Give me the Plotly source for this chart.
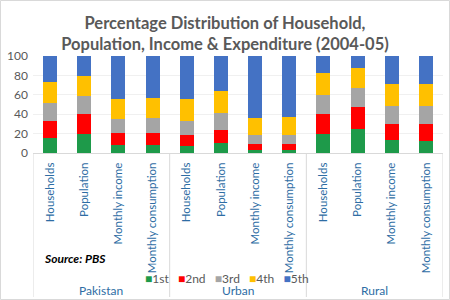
import plotly.graph_objects as go

groups = ["Pakistan", "Urban", "Rural"]
measures = ["Households", "Population", "Monthly income", "Monthly consumption"]
series_names = ["1st", "2nd", "3rd", "4th", "5th"]
colors = ["#1e9a4a", "#ff0000", "#a5a5a5", "#ffc000", "#4472c4"]

# values per quintile, ordered Pakistan(4), Urban(4), Rural(4)
q1 = [15.5, 20.0, 8.6, 8.6, 6.9, 10.3, 3.4, 3.4, 19.3, 24.8, 13.1, 12.4]
q2 = [17.3, 19.7, 12.1, 12.1, 11.4, 13.1, 5.6, 5.6, 21.0, 22.8, 17.2, 17.3]
q3 = [18.9, 19.3, 14.5, 15.2, 15.1, 17.6, 10.0, 10.0, 20.0, 19.3, 18.0, 18.6]
q4 = [21.7, 20.7, 20.0, 20.7, 22.5, 22.8, 17.2, 17.9, 21.7, 20.3, 22.4, 23.1]
q5 = [26.6, 20.3, 44.8, 43.4, 44.1, 36.2, 63.8, 63.1, 18.0, 12.8, 29.3, 28.6]
series = [q1, q2, q3, q4, q5]

yticks = [0, 20, 40, 60, 80, 100]

labels = [m for g in groups for m in measures]
xpos = list(range(len(labels)))

fig = go.Figure()
for name, vals, col in zip(series_names, series, colors):
    fig.add_trace(go.Bar(x=xpos, y=vals, name=name, marker=dict(color=col, line=dict(width=0)),
                         showlegend=False))

# plot area pixel geometry
W, H = 450, 300
ml, mr, mt, mb = 33, 7, 56, 147
pw = W - ml - mr
ph = H - mt - mb

def px_x(p):
    return (p - ml) / pw

def px_y(p):
    return (H - mb - p) / ph

fig.update_layout(
    width=W, height=H,
    margin=dict(l=ml, r=mr, t=mt, b=mb),
    barmode="stack",
    bargap=0.59,
    plot_bgcolor="white",
    paper_bgcolor="white",
    font=dict(family="Lato, Open Sans, sans-serif", color="#595959"),
    title=dict(
        text="<b>Percentage Distribution of Household,<br>Population, Income & Expenditure (2004-05)</b>",
        x=0.5, xanchor="center", xref="container",
        y=1 - 29 / H, yanchor="middle", yref="container",
        font=dict(family="Lato, sans-serif", size=16.5, color="#595959"),
    ),
    xaxis=dict(
        tickvals=xpos, ticktext=labels, tickangle=-90,
        tickfont=dict(size=11.5, color="#2e6da4"),
        range=[-0.5, len(labels) - 0.5],
        showline=True, linecolor="#d9d9d9", linewidth=1,
        showgrid=False, ticks="", ticklabelstandoff=4,
    ),
    yaxis=dict(
        range=[0, 100], tickvals=yticks,
        tickfont=dict(size=12, color="#595959"),
        showgrid=True, gridcolor="#f0f0f0", zeroline=False,
        ticks="", ticklabelstandoff=4,
    ),
)

# category group dividers
for b in [-0.5, 3.5, 7.5, 11.5]:
    fig.add_shape(type="line", xref="x", yref="paper", x0=b, x1=b, y0=0, y1=px_y(297),
                  line=dict(color="#d9d9d9", width=1))

# group labels
for i, g in enumerate(groups):
    fig.add_annotation(text=g, xref="x", yref="paper", x=i * 4 + 1.5, y=px_y(290),
                       showarrow=False, yanchor="middle",
                       font=dict(size=12, color="#2e6da4"))

# source
fig.add_annotation(text="<b><i>Source: PBS</i></b>", xref="paper", yref="paper",
                   x=px_x(42), y=px_y(258), xanchor="left", yanchor="middle",
                   showarrow=False, font=dict(size=12, color="#000000"))

# legend (manual, compact like Excel)
leg = "   ".join(f"<span style='color:{c}'>■</span>{n}" for n, c in zip(series_names, colors))
fig.add_annotation(text=leg, xref="paper", yref="paper", x=px_x(227), y=px_y(278),
                   xanchor="center", yanchor="middle", showarrow=False,
                   font=dict(size=12, color="#595959"))

# outer chart border
fig.add_shape(type="rect", xref="paper", yref="paper",
              x0=px_x(0.5), x1=px_x(449.5), y0=px_y(299.5), y1=px_y(0.5),
              line=dict(color="#d9d9d9", width=1), layer="below")

fig.write_html("out.html")
